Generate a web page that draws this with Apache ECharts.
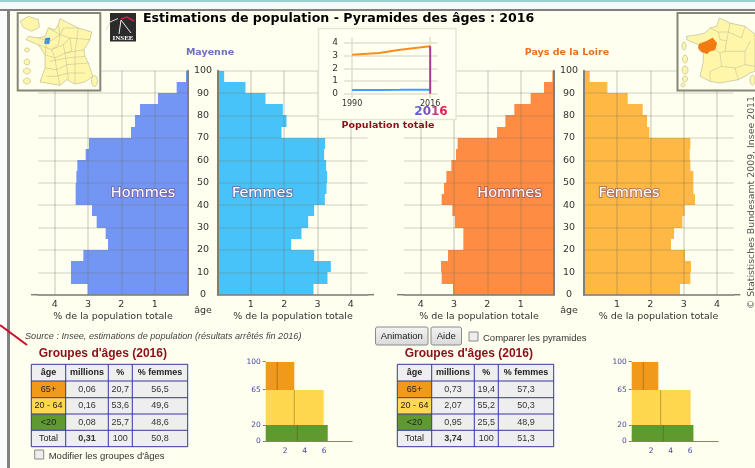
<!DOCTYPE html>
<html>
<head>
<meta charset="utf-8">
<title>Pyramides des âges</title>
<script src="https://cdn.jsdelivr.net/npm/echarts@6/dist/echarts.min.js"></script>
<style>
html, body { margin: 0; padding: 0; background: #fffff0; }
#chart { width: 755px; height: 468px; }
</style>
</head>
<body>
<div id="chart"></div>
<script>
// tranches de 5 ans, de la plus jeune a la plus agee
const ageStarts = [0, 5, 10, 15, 20, 25, 30, 35, 40, 45, 50, 55, 60, 65, 70, 75, 80, 85, 90, 95];
const hommesMayenne = [3.01, 3.51, 3.51, 3.14, 2.40, 2.47, 2.74, 2.88, 3.37, 3.37, 3.35, 3.32, 3.07, 2.97, 1.71, 1.59, 1.44, 0.90, 0.34, 0.06];
const femmesMayenne = [2.88, 3.30, 3.40, 2.90, 2.21, 2.52, 2.72, 2.90, 3.22, 3.27, 3.29, 3.26, 3.20, 3.23, 1.92, 2.07, 1.96, 1.44, 0.84, 0.20];
const hommesLoire = [3.03, 3.37, 3.39, 3.18, 2.72, 2.72, 2.97, 3.05, 3.37, 3.30, 3.23, 3.08, 2.94, 2.89, 1.71, 1.46, 1.19, 0.70, 0.30, 0.05];
const femmesLoire = [2.89, 3.20, 3.22, 3.04, 2.62, 2.71, 2.96, 3.03, 3.34, 3.29, 3.29, 3.20, 3.18, 3.20, 1.97, 1.90, 1.77, 1.32, 0.71, 0.18];

const pctTicks = [1, 2, 3, 4];
const ageTicks = [0, 10, 20, 30, 40, 50, 60, 70, 80, 90, 100];

// petit graphique population totale (millions)
const popYears = [1990, 1999, 2006, 2011, 2016];
const popLoire = [3.07, 3.21, 3.45, 3.60, 3.74];
const popMayenne = [0.28, 0.29, 0.30, 0.31, 0.31];
const popYearTicks = [1990, 2016];
const popTicks = [0, 1, 2, 3, 4];

// groupes d'ages : bornes, hauteur (% par 5 ans), part des hommes
const groupBounds = [0, 20, 65, 100];
const groupColors = ['#5f9a2e', '#ffd84f', '#f0991a'];
const groupMayenne = [6.36, 5.95, 2.93];
const groupMenMayenne = [3.24, 2.93, 1.18];
const groupLoire = [6.33, 6.05, 2.73];
const groupMenLoire = [3.24, 2.97, 1.19];
const groupXTicks = [2, 4, 6];

const tableHeader = ['âge', 'millions', '%', '% femmes'];
const tableAges = ['65+', '20 - 64', '<20', 'Total'];
const tableAgeColors = ['#f0991a', '#ffd84f', '#5f9a2e', '#eeeeee'];
const tableMayenne = [['0,06', '20,7', '56,5'], ['0,16', '53,6', '49,6'], ['0,08', '25,7', '48,6'], ['0,31', '100', '50,8']];
const tableLoire = [['0,73', '19,4', '57,3'], ['2,07', '55,2', '50,3'], ['0,95', '25,5', '48,9'], ['3,74', '100', '51,3']];

const VERDANA = '"DejaVu Sans", sans-serif';
const ARIAL = '"Liberation Sans", Arial, sans-serif';
const GRID_COLOR = '#e0e0d2';
const GRID_OVER = 'rgba(110,110,90,0.2)';
const AXIS_COLOR = '#80807a';
const DARK_RED = '#8a0f18';
const BG = '#fffff0';

function text(x, y, str, size, fill, opts) {
    opts = opts || {};
    return {
        type: 'text', x: x, y: y, z: opts.z || 30, rotation: opts.rotation || 0,
        style: {
            text: str, fill: fill,
            font: (opts.italic ? 'italic ' : '') + (opts.bold ? 'bold ' : '') + size + 'px ' + (opts.font || VERDANA),
            textAlign: opts.align || 'left', textVerticalAlign: 'middle',
            stroke: opts.stroke, lineWidth: opts.lineWidth || 0, strokeFirst: true
        }
    };
}
function rect(x, y, w, h, fill, stroke, lw, z) {
    return { type: 'rect', z: z || 10, shape: { x: x, y: y, width: w, height: h }, style: { fill: fill, stroke: stroke || null, lineWidth: lw || 0 } };
}
function line(x1, y1, x2, y2, color, lw, z) {
    return { type: 'line', z: z || 10, shape: { x1: x1, y1: y1, x2: x2, y2: y2 }, style: { stroke: color, lineWidth: lw || 1 } };
}

// ---- axes et series ----
let grids = [], xAxes = [], yAxes = [], series = [];

function addGrid(box, xOpt, yOpt) {
    let i = grids.length;
    grids.push({ left: box[0], top: box[1], width: box[2], height: box[3] });
    xAxes.push(Object.assign({ gridIndex: i, type: 'value', axisLine: { onZero: false } }, xOpt));
    yAxes.push(Object.assign({ gridIndex: i, type: 'value', axisLine: { onZero: false } }, yOpt));
    return i;
}

// rectangles age -> valeur, places par les echelles de la grille
function renderBand(params, api) {
    let p0 = api.coord([0, api.value(0)]);
    let p1 = api.coord([api.value(2), api.value(1)]);
    let y0 = Math.round(p0[1]), y1 = Math.round(p1[1]);
    return {
        type: 'rect',
        shape: { x: Math.min(p0[0], p1[0]), y: y1, width: Math.abs(p1[0] - p0[0]), height: y0 - y1 },
        style: { fill: api.visual('color') }
    };
}

function addPyramid(zeroX, side, values, color, showAges) {
    let left = side === 'male' ? zeroX - 150 : zeroX;
    let i = addGrid([left, 70.7, 150, 224], {
        min: 0, max: 4.5, inverse: side === 'male', z: 3,
        axisLine: { onZero: false, lineStyle: { color: AXIS_COLOR, width: 1.5 } },
        axisTick: { show: false, customValues: pctTicks },
        axisLabel: { customValues: pctTicks, color: '#333', fontFamily: VERDANA, fontSize: 9.5, margin: 5 },
        splitLine: { show: true, lineStyle: { color: GRID_OVER, width: 2 } }
    }, {
        min: 0, max: 100, position: side === 'male' ? 'right' : 'left', z: 3,
        axisLine: { show: true, onZero: false, lineStyle: { color: AXIS_COLOR, width: 2 } },
        axisTick: { show: false, customValues: ageTicks },
        axisLabel: { show: showAges, customValues: ageTicks, align: 'center', margin: 15, color: '#333', fontFamily: VERDANA, fontSize: 9.5 },
        splitLine: { show: true, lineStyle: { color: 'rgba(110,110,90,0.16)', width: 2 } }
    });
    series.push({
        type: 'custom', xAxisIndex: i, yAxisIndex: i, renderItem: renderBand, silent: true, z: 2,
        itemStyle: { color: color }, encode: { x: 2, y: [0, 1] },
        data: ageStarts.map((a, k) => [a, a + 5, values[k]])
    });
}

addPyramid(188, 'male', hommesMayenne, '#7396f5', true);
addPyramid(217.5, 'female', femmesMayenne, '#48c3fa', false);
addPyramid(554, 'male', hommesLoire, '#ff8c42', true);
addPyramid(583.7, 'female', femmesLoire, '#ffb843', false);

// population totale
let popGrid = addGrid([344, 37, 93.7, 61], {
    min: 1987.3, max: 2018.5, z: 20,
    axisLine: { show: false },
    axisTick: { show: false, customValues: popYearTicks },
    axisLabel: { customValues: popYearTicks, formatter: v => String(v), color: '#333', fontFamily: VERDANA, fontSize: 8, margin: 2 },
    splitLine: { show: true, lineStyle: { color: GRID_COLOR, width: 1.5 } }
}, {
    min: -0.34, max: 4.46, z: 20,
    axisLine: { show: false },
    axisTick: { show: false, customValues: popTicks },
    axisLabel: { customValues: popTicks, color: '#333', fontFamily: VERDANA, fontSize: 9, margin: 6 },
    splitLine: { show: true, lineStyle: { color: GRID_COLOR, width: 1.5 } }
});
function popLine(values, color, width) {
    return {
        type: 'line', xAxisIndex: popGrid, yAxisIndex: popGrid, z: 22, silent: true, symbol: 'none',
        lineStyle: { color: color, width: width },
        data: popYears.map((y, k) => [y, values[k]])
    };
}
series.push(popLine(popLoire, '#ff8c1a', 2));
series.push(popLine(popMayenne, '#3aa0ff', 2));
series.push({
    type: 'line', xAxisIndex: popGrid, yAxisIndex: popGrid, z: 23, silent: true, symbol: 'none',
    lineStyle: { color: '#a83f8e', width: 2 },
    data: [[2016, 0], [2016, popLoire[popLoire.length - 1]]]
});

// groupes d'ages
function renderGroup(params, api) {
    let p0 = api.coord([0, api.value(0)]);
    let p1 = api.coord([api.value(2), api.value(1)]);
    let pm = api.coord([api.value(3), api.value(0)]);
    let y0 = Math.round(p0[1]), y1 = Math.round(p1[1]);
    return {
        type: 'group',
        children: [
            { type: 'rect', shape: { x: p0[0], y: y1, width: p1[0] - p0[0], height: y0 - y1 }, style: { fill: groupColors[params.dataIndex] } },
            { type: 'line', shape: { x1: pm[0], y1: y0, x2: pm[0], y2: y1 }, style: { stroke: 'rgba(90,70,20,0.4)', lineWidth: 1 } }
        ]
    };
}
function addGroups(zeroX, heights, men) {
    let i = addGrid([zeroX, 361.7, 86.5, 79.6], {
        min: 0, max: 8.87,
        axisLine: { onZero: false, lineStyle: { color: '#85856a', width: 1 } },
        axisTick: { show: false, customValues: groupXTicks },
        axisLabel: { customValues: groupXTicks, color: '#4646a0', fontFamily: VERDANA, fontSize: 7.5, margin: 6 },
        splitLine: { show: false }
    }, {
        min: 0, max: 100,
        axisLine: { show: false },
        axisTick: { show: true, length: 3, customValues: groupBounds, lineStyle: { color: '#85856a' } },
        axisLabel: { customValues: groupBounds, color: '#4646a0', fontFamily: VERDANA, fontSize: 7.5, margin: 5 },
        splitLine: { show: false }
    });
    series.push({
        type: 'custom', xAxisIndex: i, yAxisIndex: i, renderItem: renderGroup, silent: true,
        encode: { x: 2, y: [0, 1] },
        data: heights.map((h, k) => [groupBounds[k], groupBounds[k + 1], h, men[k]])
    });
}
addGroups(265.7, groupMayenne, groupMenMayenne);
addGroups(631.7, groupLoire, groupMenLoire);

// ---- decor de page ----
let deco = [];

deco.push(rect(0, 0, 755, 9, '#f4fafa'));
deco.push(rect(0, 0, 755, 2, '#96cfd0'));
deco.push(rect(0, 9, 755, 2, '#808080'));
deco.push(rect(0, 11, 7, 457, '#fbfbfb'));
deco.push(rect(7, 9, 3, 459, '#808080'));
deco.push(line(0, 325, 27, 345, '#c8102e', 2, 12));

// cartes (trace approximatif)
function mapPts(ox, oy, pts) { return pts.map(p => [ox + p[0] / 3, oy + p[1] / 3]); }
function poly(pts, fill, stroke, lw) {
    return { type: 'polygon', z: 12, shape: { points: pts }, style: { fill: fill, stroke: stroke, lineWidth: lw || 0.6 } };
}
function polyline(pts, stroke) {
    return { type: 'polyline', z: 13, shape: { points: pts }, style: { fill: null, stroke: stroke, lineWidth: 0.5 } };
}
function blob(cx, cy, rx, ry) {
    return { type: 'ellipse', z: 12, shape: { cx: cx, cy: cy, rx: rx, ry: ry }, style: { fill: '#fff6aa', stroke: '#b4b490', lineWidth: 0.6 } };
}
const MAP_LINE = '#b8b894';

const outlineDep = [[150, 32], [165, 40], [205, 60], [245, 72], [240, 95], [222, 125], [225, 145], [235, 165], [248, 205], [225, 222], [195, 228], [170, 215], [150, 232], [110, 225], [90, 222], [105, 180], [105, 140], [85, 110], [48, 95], [55, 85], [85, 90], [105, 85], [115, 60], [135, 65], [145, 50]];
const depLines = [
    [[115, 60], [150, 80], [160, 60], [205, 60]], [[85, 90], [120, 100], [150, 80], [180, 90], [240, 95]],
    [[85, 110], [125, 125], [160, 110], [180, 90]], [[105, 140], [135, 150], [165, 135], [222, 125]],
    [[160, 110], [165, 135], [170, 170], [235, 165]], [[105, 180], [140, 185], [170, 170], [175, 215]],
    [[125, 125], [135, 150], [140, 185], [150, 232]], [[205, 60], [200, 100], [195, 130], [195, 228]],
    [[150, 80], [145, 110], [125, 125]], [[180, 90], [185, 130], [165, 135]], [[110, 100], [105, 140]],
    [[110, 205], [140, 205], [175, 195], [225, 195]], [[120, 160], [170, 150], [225, 145]], [[145, 50], [150, 80]]
];
deco.push(rect(17.7, 13, 82.6, 77.6, BG, '#85857a', 2, 11));
deco.push(poly(mapPts(10, 8, outlineDep), '#fff6aa', '#b4b490'));
depLines.forEach(l => deco.push(polyline(mapPts(10, 8, l), MAP_LINE)));
deco.push(poly(mapPts(10, 8, [[30, 40], [55, 25], [85, 35], [88, 58], [65, 70], [40, 58]]), '#fff6aa', '#b4b490'));
deco.push(blob(27, 50, 2.5, 2));
deco.push(blob(27, 62, 3, 3));
deco.push(blob(27, 71, 3.5, 3));
deco.push(blob(27, 81, 3.5, 3));
deco.push(blob(94.5, 81, 3, 5.5));
deco.push(poly(mapPts(10, 8, [[106, 91], [120, 90], [117, 107], [104, 107]]), '#2f86f0', '#2f86f0'));

const outlineRegion = [[148, 30], [180, 45], [225, 55], [255, 78], [255, 190], [240, 195], [225, 205], [205, 215], [150, 225], [120, 220], [90, 205], [100, 160], [100, 135], [85, 110], [50, 95], [50, 85], [85, 80], [105, 75], [120, 60], [140, 55]];
const regionLines = [
    [[120, 60], [145, 72], [175, 72], [180, 45]], [[145, 72], [150, 95], [170, 98], [175, 72]],
    [[175, 72], [215, 90], [225, 55]], [[170, 98], [165, 130], [225, 130], [240, 100]],
    [[165, 130], [150, 135], [155, 175], [120, 190], [120, 220]], [[155, 175], [195, 180], [205, 215]],
    [[195, 180], [225, 170], [255, 175]], [[135, 125], [150, 135]], [[225, 130], [225, 170]]
];
deco.push(rect(677.5, 13, 90, 77.6, BG, '#85857a', 2, 11));
deco.push(poly(mapPts(670, 8, outlineRegion), '#fff6aa', '#b4b490'));
regionLines.forEach(l => deco.push(polyline(mapPts(670, 8, l), MAP_LINE)));
deco.push(poly(mapPts(670, 8, [[88, 108], [110, 100], [128, 90], [140, 105], [135, 125], [118, 130], [112, 137], [92, 130], [85, 120]]), '#f47a12', '#e07010'));
deco.push(blob(684, 46, 2, 4));
deco.push(blob(685, 59, 2.5, 4));
deco.push(blob(685, 70, 3, 4));
deco.push(blob(685, 79, 2.5, 3));
deco.push(blob(683, 85, 2, 2));
deco.push(blob(752.5, 80, 2.5, 5));

// logo Insee
deco.push(rect(110, 13, 26, 28.5, '#2b2b2b', null, 0, 12));
deco.push({ type: 'polyline', z: 13, shape: { points: [[106, 30], [110, 22], [118, 18.5]] }, style: { fill: null, stroke: '#dddddd', lineWidth: 1 } });
deco.push({ type: 'polyline', z: 13, shape: { points: [[119, 34], [121, 20], [131, 33]] }, style: { fill: null, stroke: '#eeeeee', lineWidth: 1 } });
deco.push({ type: 'polyline', z: 13, shape: { points: [[121, 19], [127, 17], [134, 21]] }, style: { fill: null, stroke: '#d81e4a', lineWidth: 1.5 } });
deco.push(text(123, 38, 'INSEE', 7, '#ffffff', { bold: true, font: '"Liberation Serif", serif', align: 'center' }));

// titres
deco.push(text(143, 18.5, 'Estimations de population - Pyramides des âges : 2016', 12.6, '#000000', { bold: true }));
deco.push(text(210, 53, 'Mayenne', 9.5, '#6f6fc8', { bold: true, align: 'center' }));
deco.push(text(567, 53, 'Pays de la Loire', 9.5, '#e8701e', { bold: true, align: 'center' }));

[[143, 'Hommes'], [262.5, 'Femmes'], [509.5, 'Hommes'], [629, 'Femmes']].forEach(t => {
    deco.push(text(t[0], 193, t[1], 14.5, '#ffffff', { align: 'center', stroke: 'rgba(120,70,120,0.55)', lineWidth: 2 }));
});
[113, 293, 479, 658.5].forEach(x => deco.push(text(x, 317, '% de la population totale', 9.5, '#333', { align: 'center' })));
[203, 569].forEach(x => deco.push(text(x, 310.5, 'âge', 9.5, '#333', { align: 'center' })));

// panneau population totale
deco.push(rect(318.5, 28.5, 137.5, 91, '#fffff2', '#e6e6d4', 1.5, 15));
deco.push({
    type: 'text', x: 431, y: 111.7, z: 30,
    style: {
        text: '{a|2}{b|0}{c|1}{d|6}', textAlign: 'center', textVerticalAlign: 'middle',
        font: 'bold 12px ' + VERDANA,
        rich: {
            a: { fill: '#5f62cc', font: 'bold 12px ' + VERDANA },
            b: { fill: '#7e52b6', font: 'bold 12px ' + VERDANA },
            c: { fill: '#b83f8c', font: 'bold 12px ' + VERDANA },
            d: { fill: '#e21f58', font: 'bold 12px ' + VERDANA }
        }
    }
});
deco.push(text(388, 126, 'Population totale', 9.5, DARK_RED, { bold: true, align: 'center' }));

// copyright
deco.push(text(751.5, 309, '© Statistisches Bundesamt 2009, Insee 2011', 9.4, '#555', { rotation: Math.PI / 2 }));

// extension de la ligne de base
[[31, 38], [367.5, 374], [397, 404], [733.7, 740.3]].forEach(s => deco.push(line(s[0], 294.7, s[1], 294.7, AXIS_COLOR, 1.5)));

// source et boutons
deco.push(text(25, 336.5, 'Source : Insee, estimations de population (résultats arrêtés fin 2016)', 9.15, '#444', { italic: true, font: ARIAL }));
function button(x, w, label) {
    deco.push({
        type: 'rect', z: 12, shape: { x: x, y: 327, width: w, height: 18, r: 2 },
        style: { fill: new echarts.graphic.LinearGradient(0, 0, 0, 1, [{ offset: 0, color: '#f4f4f4' }, { offset: 1, color: '#d8d8d8' }]), stroke: '#8a8a8a', lineWidth: 1 }
    });
    deco.push(text(x + w / 2, 336, label, 9.5, '#222', { font: ARIAL, align: 'center' }));
}
button(375.5, 52.5, 'Animation');
button(431, 30.5, 'Aide');
function checkbox(x, y, label) {
    deco.push(rect(x, y, 9, 9, '#eeeeee', '#8a8a8a', 1, 12));
    deco.push(text(x + 14, y + 6, label, 9.5, '#333', { font: ARIAL }));
}
checkbox(469, 332, 'Comparer les pyramides');
checkbox(34.7, 450, 'Modifier les groupes d\'âges');

// tableaux
function drawTable(ox, rows) {
    const colX = [0, 34.4, 77, 101, 156.4];
    const rowY = [364.3, 381, 397.7, 414, 430.3, 446.7];
    const BLUE = '#3636a0';
    deco.push(text(ox + 7.4, 353.5, 'Groupes d\'âges (2016)', 12, DARK_RED, { bold: true, font: ARIAL }));
    deco.push(rect(ox, rowY[0], colX[4], rowY[5] - rowY[0], '#eeeeee', null, 0, 12));
    tableAgeColors.forEach((c, r) => deco.push(rect(ox, rowY[r + 1], colX[1], rowY[r + 2] - rowY[r + 1], c, null, 0, 12)));
    rowY.forEach(y => deco.push(line(ox, y, ox + colX[4], y, BLUE, 1, 13)));
    colX.forEach(x => deco.push(line(ox + x, rowY[0], ox + x, rowY[5], BLUE, 1, 13)));
    let cx = k => ox + (colX[k] + colX[k + 1]) / 2;
    tableHeader.forEach((h, k) => deco.push(text(cx(k), (rowY[0] + rowY[1]) / 2, h, 9, '#222', { bold: true, font: ARIAL, align: 'center' })));
    tableAges.forEach((a, r) => {
        let y = (rowY[r + 1] + rowY[r + 2]) / 2;
        deco.push(text(cx(0), y, a, 9, '#222', { font: ARIAL, align: 'center' }));
        rows[r].forEach((v, k) => deco.push(text(cx(k + 1), y, v, 9, '#333', { font: ARIAL, align: 'center', bold: r === 3 && k === 0 })));
    });
}
drawTable(31.3, tableMayenne);
drawTable(397.3, tableLoire);

let chart = echarts.init(document.getElementById('chart'));
chart.setOption({
    animation: false,
    backgroundColor: BG,
    grid: grids,
    xAxis: xAxes,
    yAxis: yAxes,
    series: series,
    graphic: { elements: deco }
});
</script>
</body>
</html>
